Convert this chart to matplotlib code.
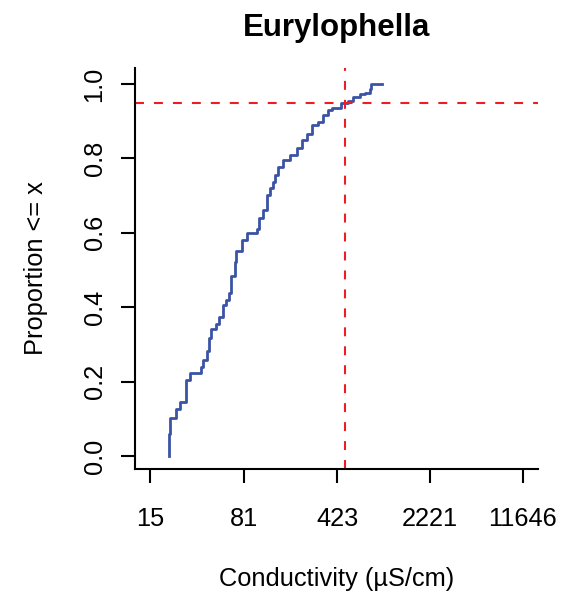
import numpy as np
import matplotlib
matplotlib.use('Agg')
import matplotlib.pyplot as plt

plt.rcParams['font.family'] = ['Liberation Sans', 'DejaVu Sans']

# ECDF de condutividade (pontos de salto)
conductivity = [20.9, 20.9, 21.5, 23.7, 25.8, 28.5, 30.6, 37.3, 38.4, 41.7, 42.7,
                44.3, 48.7, 51.7, 55.5, 58.2, 61.7, 63.3, 68.0, 69.6, 77.4, 84.2,
                100.7, 104.3, 112.0, 120.3, 127.6, 133.9, 139.5, 148.0, 161.8,
                182.4, 205.5, 224.7, 245.7, 268.5, 302.1, 330.3, 361.1, 383.7,
                450.6, 516.0, 564.1, 635.9, 695.0, 760.0, 772.0, 946.0]
proportion = [0.0, 0.059, 0.103, 0.126, 0.146, 0.203, 0.222, 0.238, 0.258, 0.283,
              0.316, 0.342, 0.355, 0.373, 0.406, 0.419, 0.437, 0.484, 0.522, 0.552,
              0.581, 0.600, 0.609, 0.639, 0.661, 0.702, 0.720, 0.737, 0.755, 0.778,
              0.796, 0.809, 0.827, 0.849, 0.866, 0.890, 0.899, 0.917, 0.930, 0.936,
              0.950, 0.955, 0.966, 0.972, 0.977, 0.986, 1.0, 1.0]

x_ticks = [15, 81, 423, 2221, 11646]
y_ticks = [0.0, 0.2, 0.4, 0.6, 0.8, 1.0]
q95_x = 486
q95_y = 0.95

fig = plt.figure(figsize=(5.61, 5.93), dpi=100)
ax = fig.add_axes([0.2406, 0.2091, 0.959 - 0.2406, 0.8853 - 0.2091])

ax.step(conductivity, proportion, where='post', color='#3A53A4', lw=2.0)
ax.axhline(q95_y, color='#EE1C25', lw=1.5, linestyle=(0, (4.3, 4.8)))
ax.axvline(q95_x, color='#EE1C25', lw=1.5, linestyle=(0, (4.3, 4.8)))

ax.set_xscale('log')
ax.set_xlim(11.48, 15223)
ax.set_ylim(-0.035, 1.043)
ax.set_xticks(x_ticks)
ax.set_xticklabels([str(t) for t in x_ticks])
ax.minorticks_off()
ax.set_yticks(y_ticks)
ax.set_yticklabels(['%.1f' % t for t in y_ticks], rotation=90, va='center')

for s in ['top', 'right']:
    ax.spines[s].set_visible(False)
for s in ['left', 'bottom']:
    ax.spines[s].set_linewidth(1.5)
ax.tick_params(axis='both', direction='out', length=10, width=1.5, labelsize=18.3)
ax.tick_params(axis='x', pad=17)
ax.tick_params(axis='y', pad=10.5)

ax.set_xlabel('Conductivity (µS/cm)', fontsize=18.3, labelpad=26)
ax.set_ylabel('Proportion <= x', fontsize=18.3, labelpad=25)
ax.set_title('Eurylophella', fontsize=22.5, fontweight='bold', pad=23)

fig.savefig('out.png', dpi=100)
